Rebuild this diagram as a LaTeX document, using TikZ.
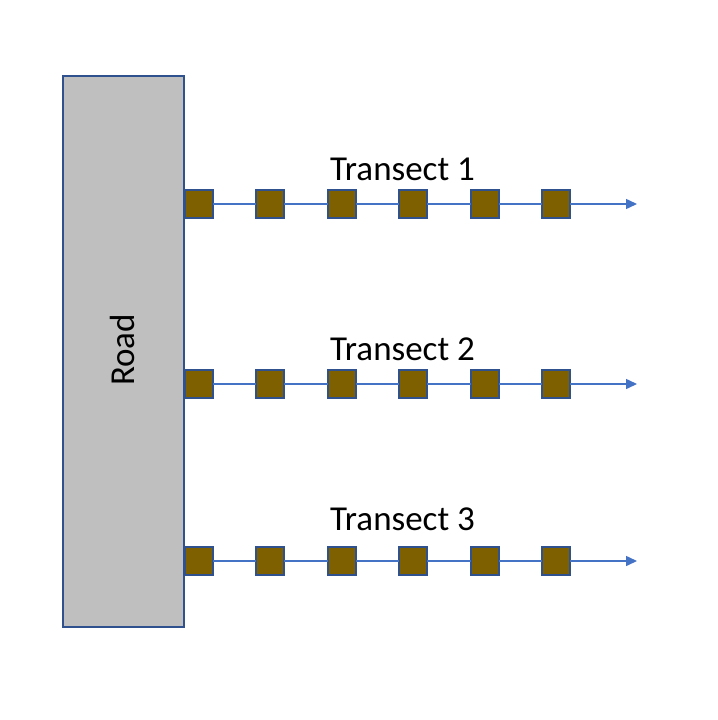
\documentclass[tikz,border=0pt]{standalone}
\usepackage{fontspec}
\setmainfont{Carlito}
\usetikzlibrary{arrows.meta}
\definecolor{sqfill}{HTML}{7F6000}
\definecolor{edge}{HTML}{2F528F}
\definecolor{lineblue}{HTML}{4472C4}
\definecolor{roadgray}{HTML}{BFBFBF}
\tikzset{
  plot/.style={draw=edge, fill=sqfill, line width=2.4bp, minimum size=28bp, inner sep=0pt, outer sep=0pt},
  road/.style={draw=edge, fill=roadgray, line width=2.2bp},
  tline/.style={draw=lineblue, line width=1.5bp},
  tarrow/.style={tline, -{Triangle[length=11bp,width=10bp]}},
  lbl/.style={font=\fontsize{35bp}{40bp}\selectfont, anchor=base, inner sep=0pt}
}
\begin{document}
\begin{tikzpicture}[x=1bp,y=-1bp]
\useasboundingbox (0,0) rectangle (718,720);
\draw[road] (63,76) rectangle (184,627);
\node[lbl, rotate=90, anchor=center] (roadlbl) at (122,350) {Road};
\foreach \t/\y/\ly in {1/204/180, 2/384/360, 3/561/530}{
  \node[lbl] (lab\t) at (402.5,\ly) {Transect \t};
  \foreach \i/\x in {1/199, 2/270, 3/342, 4/413, 5/485, 6/556}{
    \node[plot] (s\t-\i) at (\x,\y) {};
  }
  \coordinate (end\t) at (637,\y);
  \draw[tline] (s\t-1) -- (s\t-2);
  \draw[tline] (s\t-2) -- (s\t-3);
  \draw[tline] (s\t-3) -- (s\t-4);
  \draw[tline] (s\t-4) -- (s\t-5);
  \draw[tline] (s\t-5) -- (s\t-6);
  \draw[tarrow] (s\t-6) -- (end\t);
}
\end{tikzpicture}
\end{document}
